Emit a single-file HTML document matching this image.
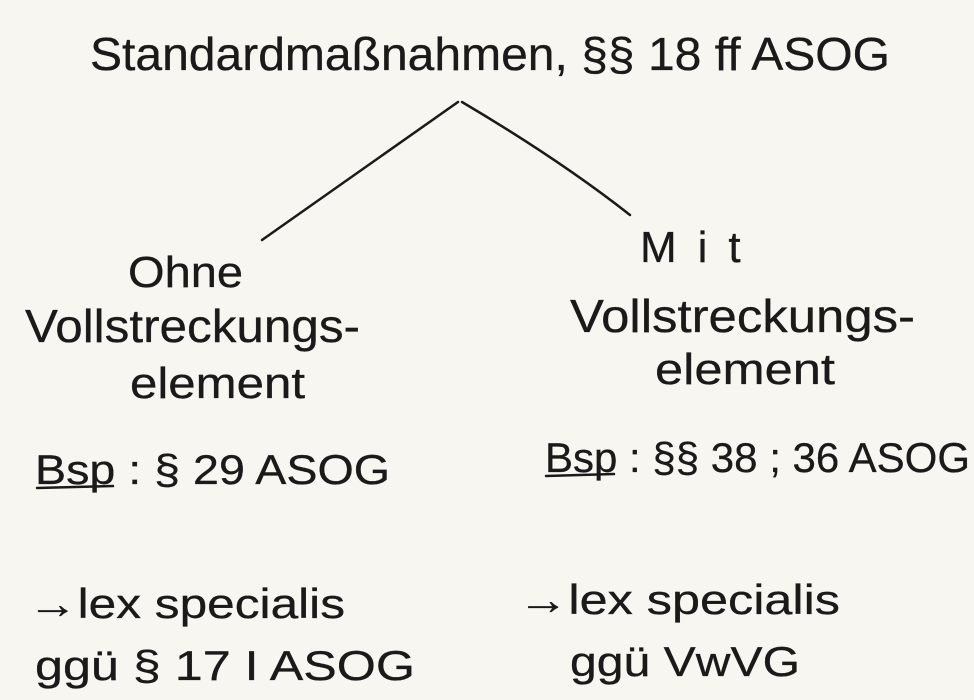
<!DOCTYPE html>
<html><head><meta charset="utf-8"><style>
html,body{margin:0;padding:0;background:#f7f6f1;}
svg{display:block}
text{font-family:"Liberation Sans",sans-serif;fill:#1a1a1a;stroke:#1a1a1a;stroke-width:0.3;}
</style></head><body>
<svg width="974" height="700" viewBox="0 0 974 700" xmlns="http://www.w3.org/2000/svg">
<rect width="974" height="700" fill="#f7f6f1"/>
<g stroke="#1a1a1a" stroke-width="2.5" fill="none" stroke-linecap="round">
<path d="M458 102 L262 240"/>
<path d="M462 102 Q560 160 630 215"/>
<path d="M37 488 L113 486"/>
<path d="M546 476 L614 474"/>
</g>
<text x="90" y="70" font-size="46" textLength="800" lengthAdjust="spacingAndGlyphs">Standardmaßnahmen, §§ 18 ff ASOG</text>
<text x="128" y="287" font-size="44" textLength="115" lengthAdjust="spacingAndGlyphs">Ohne</text>
<text x="25" y="342" font-size="46" textLength="335" lengthAdjust="spacingAndGlyphs">Vollstreckungs-</text>
<text x="130" y="398" font-size="44" textLength="175" lengthAdjust="spacingAndGlyphs">element</text>
<text x="640" y="262" font-size="44" letter-spacing="21">Mit</text>
<text x="570" y="332" font-size="46" textLength="345" lengthAdjust="spacingAndGlyphs">Vollstreckungs-</text>
<text x="655" y="384" font-size="44" textLength="180" lengthAdjust="spacingAndGlyphs">element</text>
<text x="35" y="484" font-size="42" textLength="355" lengthAdjust="spacingAndGlyphs">Bsp : § 29 ASOG</text>
<text x="545" y="472" font-size="42" textLength="425" lengthAdjust="spacingAndGlyphs">Bsp : §§ 38 ; 36 ASOG</text>
<text x="28" y="618" font-size="42" textLength="317" lengthAdjust="spacingAndGlyphs">→lex specialis</text>
<text x="35" y="680" font-size="42" textLength="380" lengthAdjust="spacingAndGlyphs">ggü § 17 I ASOG</text>
<text x="518" y="614" font-size="42" textLength="322" lengthAdjust="spacingAndGlyphs">→lex specialis</text>
<text x="570" y="676" font-size="42" textLength="230" lengthAdjust="spacingAndGlyphs">ggü VwVG</text>
</svg>
</body></html>
